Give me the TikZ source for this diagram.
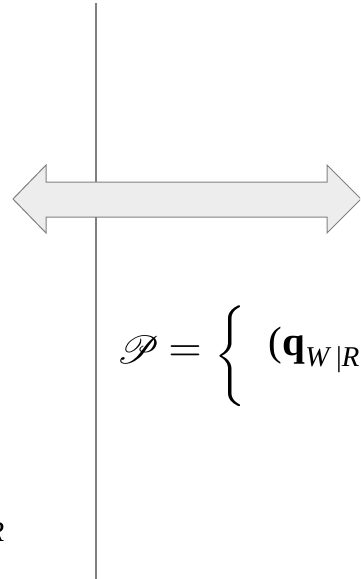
\documentclass[tikz,border=0pt]{standalone}
\usepackage{amsmath}
\usepackage{mathrsfs}
\usepackage{fontspec}
\setmainfont{Liberation Serif}
\usetikzlibrary{shapes.arrows}
\newcommand{\subtxt}[1]{\raisebox{-0.6ex}{\scriptsize #1}}
\begin{document}
\begin{tikzpicture}[x=1pt,y=-1pt,
  divider/.style={draw=black!50,line width=1.5pt},
  bigarrow/.style={draw=black!50,fill=black!7,line width=1pt,line join=miter},
  formula/.style={inner sep=0pt}]
\useasboundingbox (0,0) rectangle (360,579);
\clip (0,0) rectangle (360,579);
\coordinate (top) at (96,3);
\coordinate (bot) at (96,579);
\draw[divider] (top) -- (bot);
\draw[bigarrow] (13,199) -- (46,165) -- (46,182) -- (327,182) -- (327,165) -- (361,199)
  -- (327,233) -- (327,217) -- (46,217) -- (46,233) -- cycle;
\node[formula,scale=3.9] (P) at (138,350) {$\mathscr{P}$};
\node[formula,scale=4.3] (eq) at (185,354) {$=$};
\node[formula,scale=4.2] (br) at (230,356) {$\bigg\{$};
\node[formula,scale=4.1,anchor=base west] (q) at (268,355) {(\textbf{q}\subtxt{\textit{W}\,|\textit{R}}};
\node[formula,scale=2.9,anchor=base west] (rr) at (-14,541) {\textit{R}};
\end{tikzpicture}
\end{document}
